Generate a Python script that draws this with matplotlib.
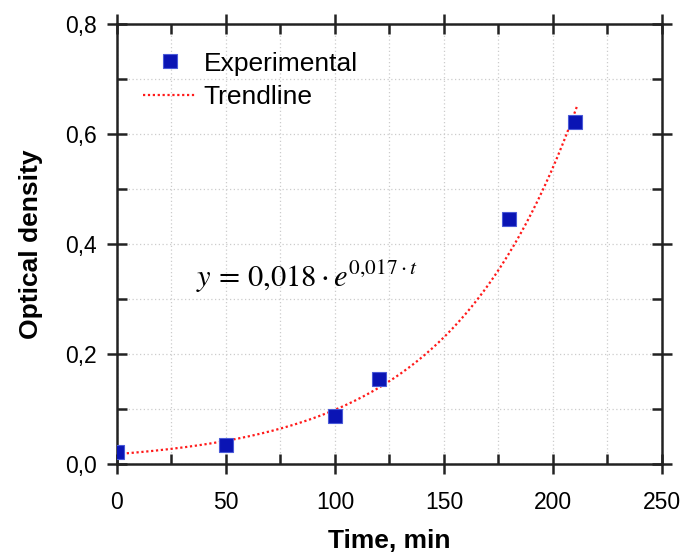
import numpy as np
import matplotlib
matplotlib.use("Agg")
import matplotlib.pyplot as plt
from matplotlib.ticker import MultipleLocator, FuncFormatter

time_min = [0, 50, 100, 120, 180, 210]
optical_density = [0.022, 0.035, 0.087, 0.155, 0.445, 0.622]
fit_a = 0.018
fit_k = 0.017
fit_tmax = 211

plt.rcParams['font.family'] = ['Liberation Sans', 'DejaVu Sans']
plt.rcParams['mathtext.fontset'] = 'stix'

fig = plt.figure(figsize=(6.85, 5.55), dpi=100)
ax = fig.add_axes([0.1708, 0.164, 0.7956, 0.7928])

t = np.linspace(0, fit_tmax, 300)
ax.plot(t, fit_a * np.exp(fit_k * t), linestyle=(0, (1, 1.2)), color='#ff1a1a', lw=1.6,
        label='Trendline', zorder=3)
ax.plot(time_min, optical_density, linestyle='none', marker='s', markersize=10,
        color='#0a14b4', markeredgecolor='#4a5ad8', markeredgewidth=0.8,
        label='Experimental', zorder=4)

ax.set_xlim(0, 250)
ax.set_ylim(0, 0.8)
ax.xaxis.set_major_locator(MultipleLocator(50))
ax.xaxis.set_minor_locator(MultipleLocator(25))
ax.yaxis.set_major_locator(MultipleLocator(0.2))
ax.yaxis.set_minor_locator(MultipleLocator(0.1))
ax.yaxis.set_major_formatter(FuncFormatter(lambda v, p: f"{v:.1f}".replace('.', ',')))

ax.grid(True, which='both', linestyle=(0, (1, 2)), color='#cccccc', lw=0.9)
ax.set_axisbelow(True)

for s in ax.spines.values():
    s.set_linewidth(1.8)
    s.set_color('#222222')

ax.tick_params(which='major', direction='inout', length=15, width=1.8, labelsize=16.5,
               top=True, right=True, colors='#222222', labelcolor='black')
ax.tick_params(axis='x', which='major', pad=12)
ax.tick_params(axis='y', which='major', pad=7)
ax.tick_params(which='minor', direction='in', length=7, width=1.8,
               top=True, right=True, colors='#222222')

ax.set_xlabel('Time, min', fontsize=19, fontweight='bold', labelpad=11)
ax.set_ylabel('Optical density', fontsize=19, fontweight='bold', labelpad=16)

handles, labels = ax.get_legend_handles_labels()
leg = ax.legend([handles[1], handles[0]], [labels[1], labels[0]], loc='upper left',
                bbox_to_anchor=(0.048, 0.937), frameon=False, fontsize=19,
                borderpad=0, borderaxespad=0,
                handlelength=2.0, handletextpad=0.3, labelspacing=0.36)

ax.text(0.145, 0.425, r'$y\,=\,0{,}018\cdot e^{0{,}017\cdot t}$', transform=ax.transAxes,
        fontsize=22, ha='left', va='center')

fig.savefig('out.png', dpi=100)
